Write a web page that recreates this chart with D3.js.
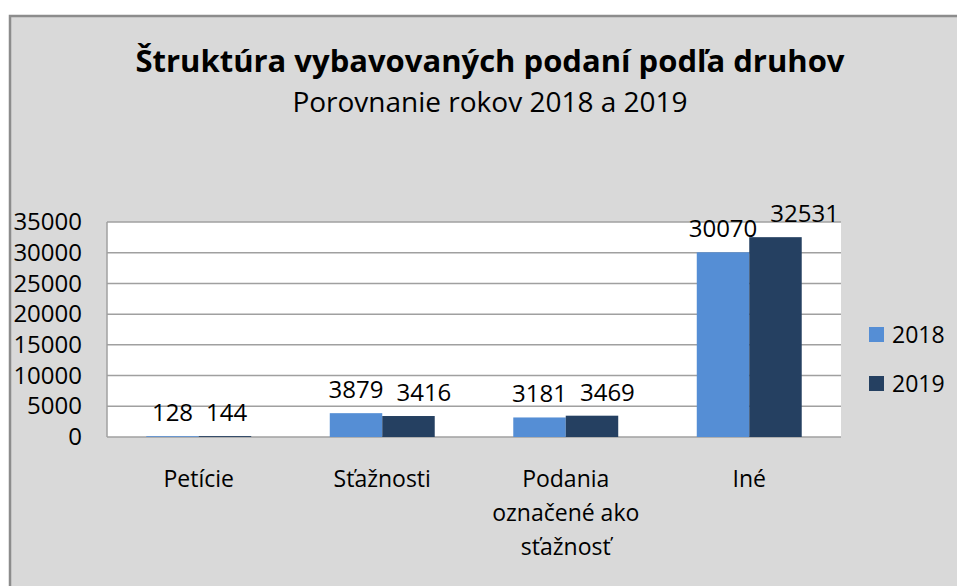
<!DOCTYPE html>
<meta charset="utf-8">
<style>
  body { margin: 0; background: #fff; }
  text { font-family: "Open Sans", "Noto Sans", sans-serif; fill: #000; }
</style>
<body>
<script src="https://d3js.org/d3.v7.min.js"></script>
<script>

const categories = [["Petície"], ["Sťažnosti"], ["Podania", "označené ako", "sťažnosť"], ["Iné"]];
const categoryKeys = ["Petície", "Sťažnosti", "Podania označené ako sťažnosť", "Iné"];
const series = ["2018", "2019"];
const values2018 = [128, 3879, 3181, 30070];
const values2019 = [144, 3416, 3469, 32531];
const yTicks = [0, 5000, 10000, 15000, 20000, 25000, 30000, 35000];

const W = 957, H = 586;
const plot = {left: 107, right: 841, top: 222, bottom: 437};
const colors = {"2018": "#558ed5", "2019": "#254061"};

const data = categoryKeys.map((k, i) => ({key: k, lines: categories[i], v: {"2018": values2018[i], "2019": values2019[i]}}));

const svg = d3.select("body").append("svg")
    .attr("width", W)
    .attr("height", H);

// chart background + border
svg.append("rect")
    .attr("x", 10).attr("y", 16)
    .attr("width", W + 20).attr("height", H + 20)
    .attr("fill", "#d9d9d9")
    .attr("stroke", "#8c8c8c")
    .attr("stroke-width", 2.5);

let x = d3.scaleBand()
    .domain(categoryKeys)
    .range([plot.left, plot.right])
    .paddingInner(0.428)
    .paddingOuter(0.214);

let x1 = d3.scaleBand()
    .domain(series)
    .range([0, x.bandwidth()]);

let y = d3.scaleLinear()
    .domain([0, 35000])
    .range([plot.bottom, plot.top]);

// plot area
svg.append("rect")
    .attr("x", plot.left).attr("y", plot.top)
    .attr("width", plot.right - plot.left).attr("height", plot.bottom - plot.top)
    .attr("fill", "#fff");

// gridlines
svg.append("g")
    .selectAll("line")
    .data(yTicks)
    .join("line")
      .attr("x1", plot.left).attr("x2", plot.right)
      .attr("y1", d => y(d)).attr("y2", d => y(d))
      .attr("stroke", "#a0a0a0")
      .attr("stroke-width", 1.5);

svg.append("line")
    .attr("x1", plot.left).attr("x2", plot.left)
    .attr("y1", plot.top).attr("y2", plot.bottom)
    .attr("stroke", "#a0a0a0")
    .attr("stroke-width", 1.5);

// y labels
let yAxis = d3.axisLeft(y).tickValues(yTicks).tickSize(0).tickPadding(0).tickFormat(d => d);
svg.append("g")
    .attr("transform", `translate(82,0)`)
    .call(yAxis)
    .call(g => g.select(".domain").remove())
    .call(g => g.selectAll("text")
        .attr("font-size", 24)
        .attr("font-family", "'Open Sans', sans-serif")
        .attr("fill", "#000"));

// bars
let groups = svg.append("g")
  .selectAll("g")
  .data(data)
  .join("g")
    .attr("transform", d => `translate(${x(d.key)},0)`);

groups.selectAll("rect")
  .data(d => series.map(s => ({s, v: d.v[s]})))
  .join("rect")
    .attr("x", d => x1(d.s))
    .attr("y", d => y(d.v))
    .attr("width", x1.bandwidth())
    .attr("height", d => y(0) - y(d.v))
    .attr("fill", d => colors[d.s]);

groups.selectAll("text.val")
  .data(d => series.map(s => ({s, v: d.v[s]})))
  .join("text")
    .attr("class", "val")
    .attr("x", d => x1(d.s) + x1.bandwidth() / 2)
    .attr("y", d => y(d.v) - 15)
    .attr("text-anchor", "middle")
    .attr("font-size", 24)
    .text(d => d.v);

// push the 2019 label right when it would collide with the 2018 one
groups.each(function() {
  const labels = d3.select(this).selectAll("text.val").nodes();
  const a = labels[0].getBBox(), b = labels[1].getBBox();
  const gap = 13;
  if (a.x + a.width + gap > b.x) {
    const dx = a.x + a.width + gap - b.x;
    d3.select(labels[1]).attr("x", +d3.select(labels[1]).attr("x") + dx);
  }
});

// category labels
groups.append("text")
    .attr("text-anchor", "middle")
    .attr("font-size", 23)
    .selectAll("tspan")
    .data(d => d.lines)
    .join("tspan")
      .attr("x", x.bandwidth() / 2)
      .attr("y", (d, i) => 487 + i * 34)
      .text(d => d);

// title
svg.append("text")
    .attr("x", 490).attr("y", 72)
    .attr("text-anchor", "middle")
    .attr("font-size", 31)
    .attr("font-weight", "bold")
    .text("Štruktúra vybavovaných podaní podľa druhov");

svg.append("text")
    .attr("x", 490).attr("y", 112)
    .attr("text-anchor", "middle")
    .attr("font-size", 28)
    .text("Porovnanie rokov 2018 a 2019");

// legend
let legend = svg.append("g")
  .selectAll("g")
  .data(series)
  .join("g")
    .attr("transform", (d, i) => `translate(869,${327 + i * 49})`);

legend.append("rect")
    .attr("width", 15).attr("height", 15)
    .attr("fill", d => colors[d]);

legend.append("text")
    .attr("x", 23).attr("y", 16)
    .attr("font-size", 23)
    .text(d => d);

</script>
